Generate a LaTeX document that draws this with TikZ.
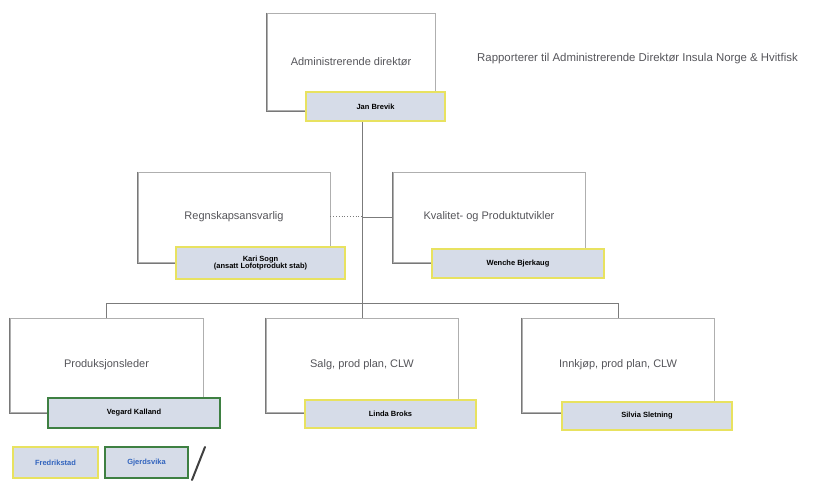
\documentclass[tikz,border=0pt]{standalone}
\usepackage{fontspec}
\setmainfont{Liberation Sans}
\definecolor{boxline}{RGB}{175,175,175}
\definecolor{boxshadow}{RGB}{120,120,120}
\definecolor{titletext}{RGB}{85,85,90}
\definecolor{namefill}{RGB}{214,220,232}
\definecolor{nameyellow}{RGB}{232,226,96}
\definecolor{namegreen}{RGB}{62,128,66}
\definecolor{placetext}{RGB}{50,100,190}
\begin{document}
\begin{tikzpicture}[x=1pt,y=-1pt]
\tikzstyle{every node}+=[inner sep=0pt]
\tikzstyle{rolebox}=[draw=boxline,fill=white,line width=0.8pt,minimum width=192pt,minimum height=92pt,
  font=\fontsize{11}{13}\selectfont,text=titletext,
  append after command={\pgfextra{\draw[boxshadow,line width=1.3pt]
    (\tikzlastnode.north west) -- ([yshift=-0.5pt]\tikzlastnode.south west) -- ([yshift=-0.5pt]\tikzlastnode.south east);}}]
\tikzstyle{namebox}=[draw=nameyellow,fill=namefill,line width=1.8pt,minimum width=170pt,minimum height=29pt,
  font=\fontsize{7.5}{8.5}\selectfont\bfseries,align=center]
\tikzstyle{greenname}=[namebox,draw=namegreen]
\tikzstyle{placebox}=[namebox,minimum width=84pt,minimum height=31pt,text=placetext]
\tikzstyle{orgline}=[draw=boxline!70!black,line width=0.8pt]
\useasboundingbox (0,0) rectangle (817,481);
% top
\node[rolebox,minimum width=168pt,minimum height=97pt] (admin) at (351,61.5) {Administrerende direktør};
\node[namebox,minimum width=139pt] (jan) at (375.5,106.5) {Jan Brevik};
\node[anchor=west,font=\fontsize{11.4}{13}\selectfont,text=titletext] (report) at (477,59)
  {Rapporterer til Administrerende Direktør Insula Norge \& Hvitfisk};
% staff level
\node[rolebox,minimum height=90pt] (regn) at (234,217) {Regnskapsansvarlig};
\node[namebox,minimum width=169pt,minimum height=32pt] (kari) at (260.5,263) {Kari Sogn\\[-1pt](ansatt Lofotprodukt stab)};
\node[rolebox,minimum height=90pt] (kval) at (489,217) {Kvalitet- og Produktutvikler};
\node[namebox,minimum width=172pt] (wenche) at (518,263.5) {Wenche Bjerkaug};
% line level
\node[rolebox,minimum width=193pt,minimum height=94pt] (prod) at (106.5,365) {Produksjonsleder};
\node[greenname,minimum width=172pt,minimum height=30pt] (vegard) at (134,413) {Vegard Kalland};
\node[rolebox,minimum height=94pt] (salg) at (362,365) {Salg, prod plan, CLW};
\node[namebox,minimum width=171pt,minimum height=28pt] (linda) at (390.5,414) {Linda Broks};
\node[rolebox,minimum height=94pt] (innk) at (618,365) {Innkjøp, prod plan, CLW};
\node[namebox,minimum height=28pt] (silvia) at (647,416) {Silvia Sletning};
\node[placebox,minimum width=85pt] (fred) at (55.5,462.5) {Fredrikstad};
\node[placebox,draw=namegreen,minimum width=83pt] (gjerd) at (146.5,462.5) {Gjerdsvika};
% connectors
\coordinate (staff) at (362,217);
\coordinate (bus) at (362,303);
\draw[orgline] (jan.south -| bus) -- (bus);
\draw[orgline,dotted,line width=1pt] (regn.east) -- (staff);
\draw[orgline] (staff) -- (kval.west);
\draw[orgline] (prod.north) -- (prod.north |- bus) -- (innk.north |- bus) -- (innk.north);
\draw[orgline] (bus) -- (salg.north);
% pen mark
\draw[line width=2pt,black!75,line cap=round] (205,447) -- (192,480);
\end{tikzpicture}
\end{document}
